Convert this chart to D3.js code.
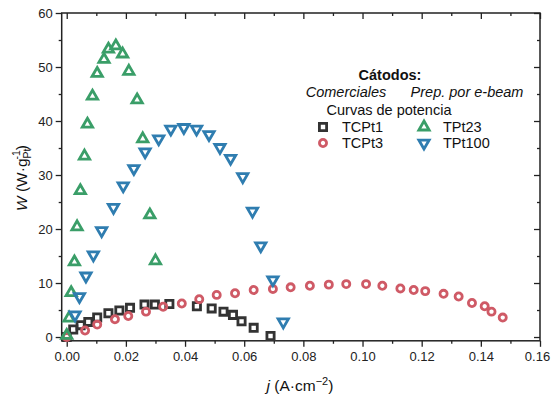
<!DOCTYPE html>
<html><head><meta charset="utf-8">
<script src="https://cdn.jsdelivr.net/npm/d3@7"></script>
<style>body{margin:0;background:#fff}svg{display:block}text{font-family:"Liberation Sans",Arial,sans-serif}</style>
</head><body><svg id="c" width="552" height="397"></svg>
<script>
// TCPt1 (commercial) : [j, W]
const tcpt1J = [0,0.0022,0.0047,0.0073,0.0103,0.0141,0.0178,0.0214,0.0263,0.0298,0.0347,0.0440,0.0490,0.0530,0.0562,0.0591,0.0632,0.0689];
const tcpt1W = [0,1.4,2.2,2.8,3.6,4.4,4.9,5.4,6.0,6.0,6.1,5.7,5.3,4.7,4.1,2.9,1.7,0.2];
// TCPt3 (commercial)
const tcpt3J = [0,0.0062,0.0103,0.0163,0.0208,0.0268,0.0326,0.0389,0.0448,0.0507,0.0569,0.0632,0.0697,0.0757,0.0822,0.0886,0.0945,0.1012,0.1067,0.1128,0.1173,0.1212,0.1274,0.1325,0.1370,0.1413,0.1436,0.1474];
const tcpt3W = [0,1.2,2.3,3.3,3.9,4.7,5.6,6.2,7.0,7.8,8.1,8.7,8.9,9.2,9.5,9.7,9.8,9.8,9.5,9.0,8.7,8.5,8.0,7.5,6.3,5.7,4.7,3.6];
// TPt23 (e-beam)
const tpt23J = [0,0.0008,0.0015,0.0026,0.0035,0.0046,0.0060,0.0070,0.0087,0.0103,0.0126,0.0141,0.0166,0.0189,0.0210,0.0238,0.0257,0.0281,0.0300];
const tpt23W = [0.3,3.5,8.2,13.9,20.4,27.1,33.5,39.4,44.6,48.8,51.4,53.3,53.9,52.4,49.2,43.9,36.7,22.6,14.1];
// TPt100 (e-beam)
const tpt100J = [0.0028,0.0043,0.0065,0.0090,0.0118,0.0158,0.0191,0.0227,0.0265,0.0311,0.0352,0.0396,0.0439,0.0481,0.0518,0.0554,0.0595,0.0628,0.0656,0.0697,0.0732];
const tpt100W = [4.1,7.5,11.3,15.2,19.7,24.0,28.0,31.2,34.3,36.7,38.5,38.8,38.5,37.5,35.1,33.1,29.7,23.3,16.9,10.6,2.8];

const xTicks = [0,0.02,0.04,0.06,0.08,0.10,0.12,0.14,0.16];
const yTicks = [0,10,20,30,40,50,60];

const svg = d3.select("#c");
const L = 61.7, R = 540, T = 13, B = 340.8;
const x = d3.scaleLinear().domain([-0.0017,0.16]).range([L,R]);
const y = d3.scaleLinear().domain([-0.7,60]).range([B,T]);
const axCol = "#222";

// frame
svg.append("rect").attr("x",L).attr("y",T).attr("width",R-L).attr("height",B-T)
  .attr("fill","none").attr("stroke",axCol).attr("stroke-width",1.5);

const xMinor = d3.range(0.01,0.16,0.02);
const yMinor = d3.range(5,60,10);

function styleAxis(g){
  g.select(".domain").remove();
  g.selectAll("line").attr("stroke",axCol).attr("stroke-width",1.3);
  g.selectAll("text").attr("fill","#222").style("font-size","13px");
}
// bottom
const bx = svg.append("g").attr("transform",`translate(0,${B})`)
  .call(d3.axisBottom(x).tickValues(xTicks).tickFormat(d3.format(".2f")).tickSize(6).tickPadding(5)).call(styleAxis);
bx.selectAll(".tick text").filter(d=>d===0.16).attr("dx",-3);
svg.append("g").attr("transform",`translate(0,${B})`)
  .call(d3.axisBottom(x).tickValues(xMinor).tickFormat("").tickSize(3)).call(styleAxis);
// top (inward)
svg.append("g").attr("transform",`translate(0,${T})`)
  .call(d3.axisBottom(x).tickValues(xTicks).tickFormat("").tickSize(6)).call(styleAxis);
svg.append("g").attr("transform",`translate(0,${T})`)
  .call(d3.axisBottom(x).tickValues(xMinor).tickFormat("").tickSize(3)).call(styleAxis);
// left
svg.append("g").attr("transform",`translate(${L},0)`)
  .call(d3.axisLeft(y).tickValues(yTicks).tickFormat(d3.format("d")).tickSize(6).tickPadding(3)).call(styleAxis);
svg.append("g").attr("transform",`translate(${L},0)`)
  .call(d3.axisLeft(y).tickValues(yMinor).tickFormat("").tickSize(3)).call(styleAxis);
// right (inward)
svg.append("g").attr("transform",`translate(${R},0)`)
  .call(d3.axisLeft(y).tickValues(yTicks).tickFormat("").tickSize(6)).call(styleAxis);
svg.append("g").attr("transform",`translate(${R},0)`)
  .call(d3.axisLeft(y).tickValues(yMinor).tickFormat("").tickSize(3)).call(styleAxis);

const series = [
  {name:"TCPt1", J:tcpt1J, W:tcpt1W, color:"#333333", sym:d3.symbolSquare, size:52, rot:0},
  {name:"TCPt3", J:tcpt3J, W:tcpt3W, color:"#cf5a66", sym:d3.symbolCircle, size:40, rot:0},
  {name:"TPt23", J:tpt23J, W:tpt23W, color:"#3a9e68", sym:d3.symbolTriangle, size:46, rot:0},
  {name:"TPt100", J:tpt100J, W:tpt100W, color:"#2f7db0", sym:d3.symbolTriangle, size:46, rot:180}
];

const plot = svg.append("g");
series.forEach(s=>{
  const path = d3.symbol().type(s.sym).size(s.size)();
  plot.selectAll(null).data(s.J.map((j,i)=>[j,s.W[i]])).enter().append("path")
    .attr("d",path)
    .attr("transform",d=>`translate(${x(d[0])},${y(d[1])}) rotate(${s.rot})`)
    .attr("fill","none").attr("stroke",s.color).attr("stroke-width",2.8);
});

// legend
const lg = svg.append("g").attr("fill","#111").style("font-size","14.5px");
lg.append("text").attr("x",390).attr("y",80).attr("text-anchor","middle").style("font-weight","bold").text("Cátodos:");
lg.append("text").attr("x",346).attr("y",97).attr("text-anchor","middle").style("font-style","italic").text("Comerciales");
lg.append("text").attr("x",467).attr("y",97).attr("text-anchor","middle").style("font-style","italic").text("Prep. por e-beam");
lg.append("text").attr("x",389).attr("y",115).attr("text-anchor","middle").text("Curvas de potencia");
const legItems = [
  {s:series[0], x:323, y:127}, {s:series[2], x:424, y:127},
  {s:series[1], x:323, y:143}, {s:series[3], x:424, y:143}
];
legItems.forEach(it=>{
  lg.append("path").attr("d",d3.symbol().type(it.s.sym).size(it.s.size)())
    .attr("transform",`translate(${it.x},${it.y}) rotate(${it.s.rot})`)
    .attr("fill","none").attr("stroke",it.s.color).attr("stroke-width",2.8);
  lg.append("text").attr("x",it.x+19).attr("y",it.y+5).text(it.s.name);
});

// axis titles
const xt = svg.append("text").attr("x",300).attr("y",391).attr("text-anchor","middle").attr("fill","#111").style("font-size","15.5px");
xt.append("tspan").style("font-style","italic").text("j");
xt.append("tspan").text(" (A·cm");
xt.append("tspan").attr("dy",-6).style("font-size","11px").text("−2");
xt.append("tspan").attr("dy",6).text(")");

const yt = svg.append("text").attr("transform","translate(27,178) rotate(-90)").attr("text-anchor","middle").attr("fill","#111").style("font-size","15.5px");
yt.append("tspan").style("font-style","italic").text("W");
yt.append("tspan").text(" (W·g");
yt.append("tspan").attr("dy",4).style("font-size","10.5px").text("Pt");
yt.append("tspan").attr("dy",-11).attr("dx",-11).style("font-size","10.5px").text("-1");
yt.append("tspan").attr("dy",7).text(")");
</script></body></html>
